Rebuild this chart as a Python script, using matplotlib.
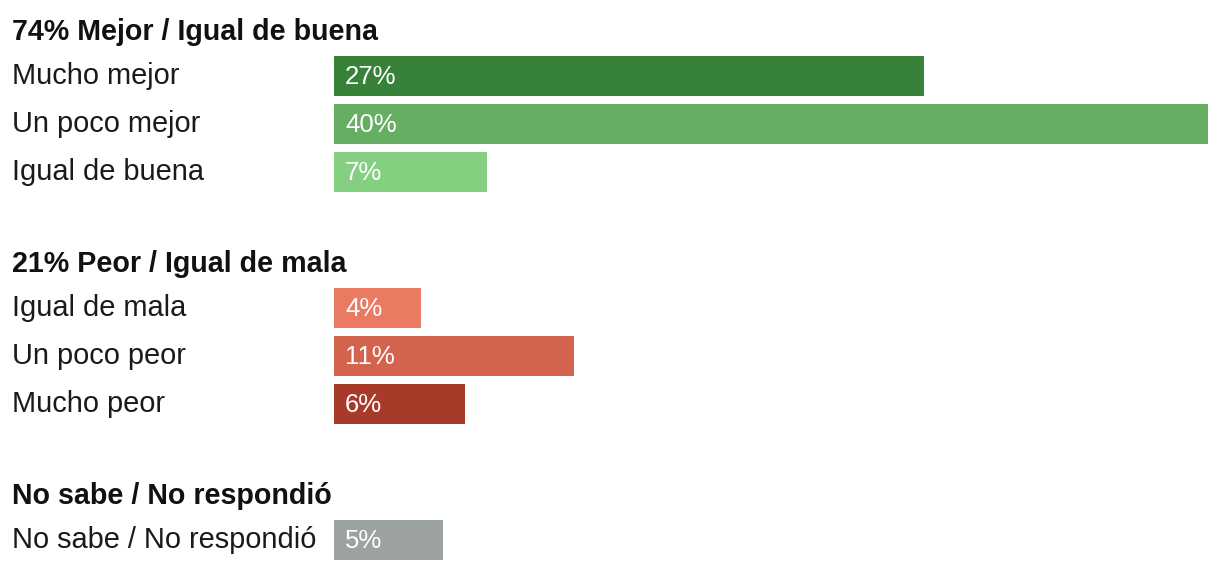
import matplotlib.pyplot as plt
from matplotlib.transforms import blended_transform_factory

plt.rcParams['font.family'] = ['Liberation Sans', 'DejaVu Sans']

# datos
grupos = ['74% Mejor / Igual de buena', '21% Peor / Igual de mala', 'No sabe / No respondió']
etiquetas = [
    ['Mucho mejor', 'Un poco mejor', 'Igual de buena'],
    ['Igual de mala', 'Un poco peor', 'Mucho peor'],
    ['No sabe / No respondió'],
]
valores = [
    [27, 40, 7],
    [4, 11, 6],
    [5],
]
colores = [
    ['#388139', '#66ae62', '#85cf80'],
    ['#eb7a62', '#d4634e', '#a83a2a'],
    ['#9ba29f'],
]

W, H = 1220, 570
fig = plt.figure(figsize=(W / 100, H / 100), dpi=100)
ax = fig.add_axes([334 / W, 0, (1208 - 334) / W, 1])
ax.set_xlim(0, 40)
ax.set_ylim(H, 0)
ax.axis('off')

trans = blended_transform_factory(fig.transFigure, ax.transData)
x_txt = 12 / W

y = 30
for g, labs, vals, cols in zip(grupos, etiquetas, valores, colores):
    ax.text(x_txt, y + 10, g, transform=trans, fontsize=20.6, fontweight='bold',
            color='#111111', va='baseline', ha='left')
    y += 46
    for lab, v, c in zip(labs, vals, cols):
        ax.barh(y, v, height=40, color=c, left=0)
        ax.text(x_txt, y + 8, lab, transform=trans, fontsize=20.9, color='#1a1a1a',
                va='baseline', ha='left')
        ax.text(0.5, y + 8, f'{v}%', fontsize=18.5, color='white',
                va='baseline', ha='left')
        y += 48
    y += 42

fig.savefig('out.png', dpi=100, facecolor='white')
